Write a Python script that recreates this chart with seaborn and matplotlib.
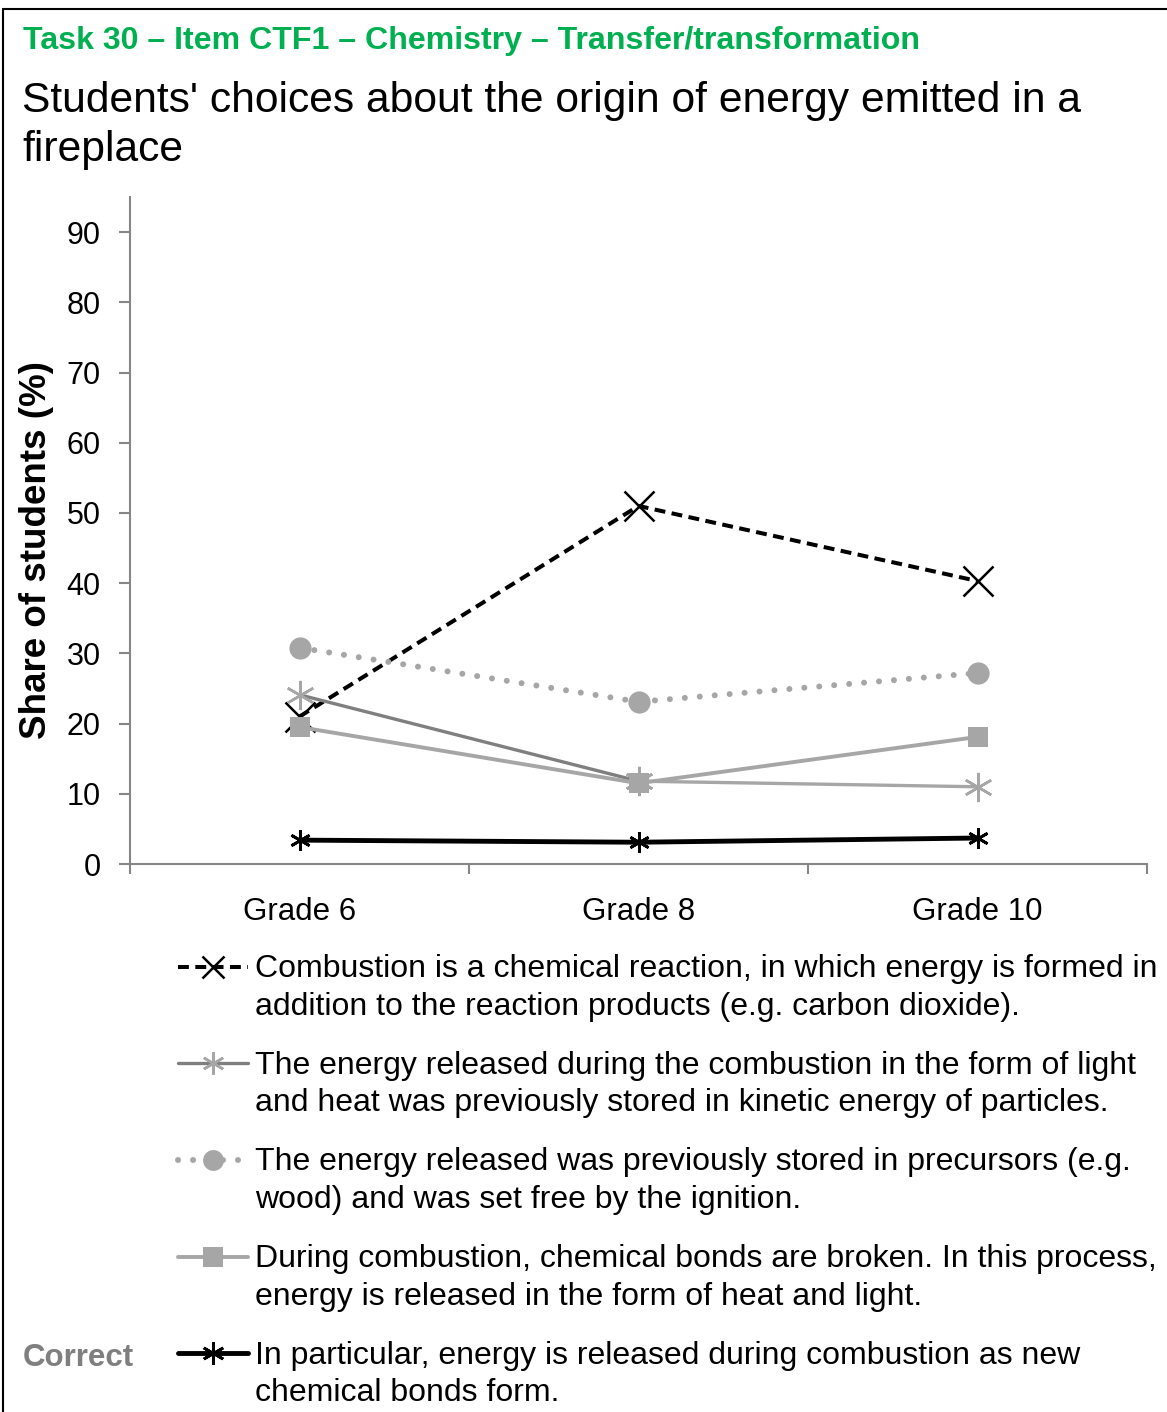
import numpy as np
import pandas as pd
import matplotlib
matplotlib.use("Agg")
import matplotlib.pyplot as plt
import seaborn as sns
from matplotlib.legend_handler import HandlerLine2D
from matplotlib.lines import Line2D

# ---------------- data ----------------
grades = ["Grade 6", "Grade 8", "Grade 10"]
combustion = [21.0, 51.0, 40.3]
kinetic = [24.1, 11.8, 11.0]
precursors = [30.8, 23.1, 27.2]
bonds_broken = [19.5, 11.5, 18.1]
bonds_form = [3.4, 3.1, 3.7]
y_ticks = [0, 10, 20, 30, 40, 50, 60, 70, 80, 90]
labels = [
    "Combustion is a chemical reaction, in which energy is formed in\naddition to the reaction products (e.g. carbon dioxide).",
    "The energy released during the combustion in the form of light\nand heat was previously stored in kinetic energy of particles.",
    "The energy released was previously stored in precursors (e.g.\nwood) and was set free by the ignition.",
    "During combustion, chemical bonds are broken. In this process,\nenergy is released in the form of heat and light.",
    "In particular, energy is released during combustion as new\nchemical bonds form.",
]
task_title = "Task 30 \u2013 Item CTF1 \u2013 Chemistry \u2013 Transfer/transformation"
title_lines = ["Students' choices about the origin of energy emitted in a", "fireplace"]
y_label = "Share of students (%)"
correct_label = "Correct"

# ---------------- style ----------------
sns.set_theme(style="white")
plt.rcParams["font.family"] = ["Liberation Sans", "DejaVu Sans"]
plt.rcParams["text.color"] = "black"
plt.rcParams["axes.labelcolor"] = "black"
plt.rcParams["xtick.color"] = "black"
plt.rcParams["ytick.color"] = "black"

W, H = 1167, 1412
fig = plt.figure(figsize=(W / 100, H / 100), dpi=100)
fig.patch.set_facecolor("white")
ax = fig.add_axes([130 / W, 1 - 864 / H, (1147 - 130) / W, (864 - 197) / H])
ax.set_facecolor("white")

BLACK = "#000000"
DARK = "#7f7f7f"
LIGHT = "#a6a6a6"
AXIS = "#868686"
STAR = (6, 2, 0)

handles = []

# Combustion (dashed black, x markers)
sns.lineplot(x=grades, y=combustion, ax=ax, sort=False, color=BLACK,
             linewidth=2.9, linestyle=(0, (2.7, 1.6)), marker="x",
             markersize=21, markeredgewidth=1.8, markeredgecolor=BLACK)
handles.append(ax.lines[-1])

# Kinetic energy (dark grey then light grey segment, light asterisks)
sns.lineplot(x=grades[:2], y=kinetic[:2], ax=ax, sort=False, color=DARK,
             linewidth=2.4, marker=STAR, markersize=21,
             markeredgewidth=1.8, markeredgecolor=LIGHT)
handles.append(ax.lines[-1])
sns.lineplot(x=grades[1:], y=kinetic[1:], ax=ax, sort=False, color=LIGHT,
             linewidth=2.4, marker=STAR, markersize=21,
             markeredgewidth=1.8, markeredgecolor=LIGHT)

# Precursors (dotted light grey, circles)
sns.lineplot(x=grades, y=precursors, ax=ax, sort=False, color=LIGHT,
             linewidth=4.3, linestyle=(0, (0.01, 2.5)), dash_capstyle="round",
             marker="o", markersize=16, markeredgewidth=0,
             markerfacecolor=LIGHT, markeredgecolor=LIGHT)
handles.append(ax.lines[-1])

# Bonds broken (solid light grey, squares)
sns.lineplot(x=grades, y=bonds_broken, ax=ax, sort=False, color=LIGHT,
             linewidth=2.8, marker="s", markersize=14, markeredgewidth=0,
             markerfacecolor=LIGHT, markeredgecolor=LIGHT)
handles.append(ax.lines[-1])

# Bonds form (solid black thick, asterisks) - correct
sns.lineplot(x=grades, y=bonds_form, ax=ax, sort=False, color=BLACK,
             linewidth=3.5, marker=STAR, markersize=15,
             markeredgewidth=2.0, markeredgecolor=BLACK)
handles.append(ax.lines[-1])

# ---------------- axes ----------------
ax.set_xlim(-0.5, 2.5)
ax.set_ylim(0, 95)
ax.set_xticks([0, 1, 2])
ax.set_xticklabels(grades)
ax.set_xticks([-0.5, 0.5, 1.5, 2.5], minor=True)
ax.set_yticks(y_ticks)
ax.set_yticklabels([str(v) for v in y_ticks])
ax.set_xlabel("")
ax.set_ylabel("")
ax.grid(False)
for s in ["top", "right"]:
    ax.spines[s].set_visible(False)
for s in ["left", "bottom"]:
    ax.spines[s].set_color(AXIS)
    ax.spines[s].set_linewidth(1.5)
ax.tick_params(axis="x", which="major", length=0, pad=24, labelsize=22.5,
               labelcolor="black")
ax.tick_params(axis="x", which="minor", length=7, width=1.5, color=AXIS,
               direction="out", bottom=True)
ax.tick_params(axis="y", which="major", length=8, width=1.5, color=AXIS,
               direction="out", left=True, pad=13, labelsize=22,
               labelcolor="black")

# ---------------- texts ----------------
fig.text(23 / W, 1 - 49 / H, task_title, color="#00B050", fontweight="bold",
         fontsize=23.1, va="baseline", ha="left")
fig.text(22 / W, 1 - 112 / H, title_lines[0], fontsize=30.7, va="baseline", ha="left")
fig.text(22 / W, 1 - 161 / H, title_lines[1], fontsize=30.7, va="baseline", ha="left")
fig.text(37 / W, 1 - 550 / H, y_label, rotation=90, fontweight="bold",
         fontsize=26.5, va="center", ha="center")
fig.text(23 / W, 1 - 1358 / H, correct_label, fontweight="bold",
         fontsize=22.5, color="#7f7f7f", va="center", ha="left")


# ---------------- legend ----------------
class TopLineHandler(HandlerLine2D):
    def __init__(self, dy=0.0, ms=None, **kw):
        super().__init__(**kw)
        self.dy = dy
        self.ms = ms

    def create_artists(self, legend, orig_handle, xdescent, ydescent,
                       width, height, fontsize, trans):
        arts = super().create_artists(legend, orig_handle, xdescent, ydescent,
                                      width, height, fontsize, trans)
        for a in arts:
            a.set_ydata(np.asarray(a.get_ydata(), dtype=float) + self.dy)
            if self.ms is not None:
                a.set_markersize(self.ms)
        return arts


legend_ms = [16, 16, 15, 14, 16]
hmap = {h: TopLineHandler(dy=15.5, ms=m) for h, m in zip(handles, legend_ms)}
leg = fig.legend(handles, labels, loc="upper left",
                 bbox_to_anchor=(178 / W, 1 - 954 / H),
                 bbox_transform=fig.transFigure, frameon=False,
                 borderpad=0, borderaxespad=0, handlelength=2.2,
                 handletextpad=0.2, labelspacing=0.91, fontsize=23,
                 handler_map=hmap)
for t in leg.get_texts():
    t.set_linespacing(1.33)
    t.set_color("black")

# ---------------- frame ----------------
fig.add_artist(Line2D([2.5 / W, 2.5 / W], [0, 1 - 9 / H], transform=fig.transFigure,
                      color="black", linewidth=1.5))
fig.add_artist(Line2D([2.5 / W, 1], [1 - 9 / H, 1 - 9 / H], transform=fig.transFigure,
                      color="black", linewidth=1.5))

fig.savefig("out.png", dpi=100)
